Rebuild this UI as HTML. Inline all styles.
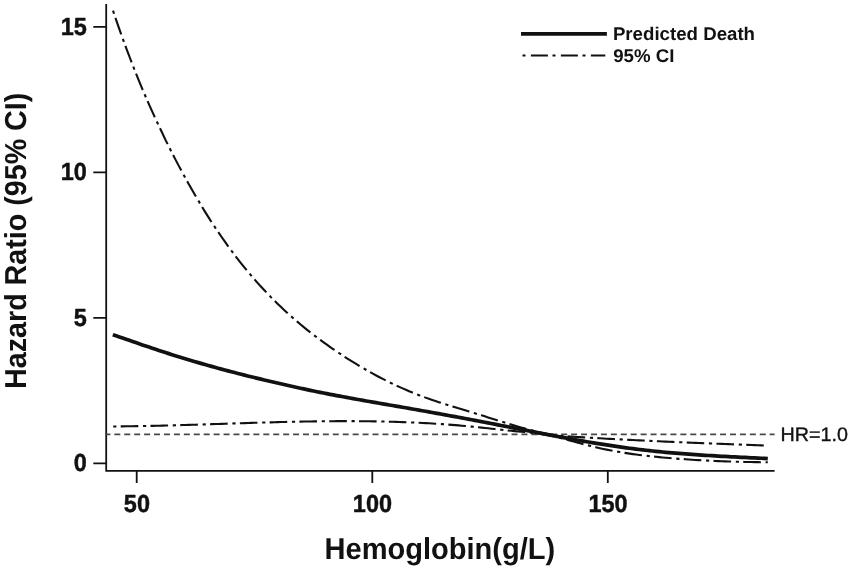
<!DOCTYPE html>
<html><head><meta charset="utf-8">
<title>Hazard Ratio vs Hemoglobin</title>
<style>
html,body{margin:0;padding:0;background:#fff;}
body{width:851px;height:569px;overflow:hidden;position:relative;font-family:"Liberation Sans",sans-serif;}
svg{position:absolute;left:0;top:0;will-change:transform;}
text{font-family:"Liberation Sans",sans-serif;fill:#111;text-rendering:geometricPrecision;}
.b{font-weight:bold;}
</style></head><body>
<svg width="851" height="569" viewBox="0 0 851 569">
<rect width="851" height="569" fill="#fff"/>
<!-- axes -->
<g stroke="#111" stroke-width="1.8" fill="none">
<path d="M106.2,4 V470.8 H774.6"/>
<path d="M93.3,26.8 H106.2 M93.3,172.3 H106.2 M93.3,317.9 H106.2 M93.3,463.3 H106.2"/>
<path d="M136.7,470.8 V483 M372.3,470.8 V483 M607.8,470.8 V483"/>
</g>
<!-- HR = 1.0 reference line -->
<path d="M106.2,434.4 H774.6" stroke="#484848" stroke-width="1.7" stroke-dasharray="6 3.93" stroke-dashoffset="1.8" fill="none"/>
<!-- 95% CI curves -->
<path d="M113.0,10.69 L116.3,20.40 L119.6,29.85 L122.9,39.05 L126.2,48.02 L129.5,56.75 L132.7,65.27 L136.0,73.57 L139.3,81.67 L142.6,89.57 L145.9,97.28 L149.2,104.81 L152.5,112.17 L155.8,119.37 L159.1,126.42 L162.4,133.32 L165.6,140.08 L168.9,146.71 L172.2,153.22 L175.5,159.61 L178.8,165.88 L182.1,172.04 L185.4,178.08 L188.7,184.00 L192.0,189.81 L195.3,195.51 L198.6,201.09 L201.8,206.55 L205.1,211.91 L208.4,217.15 L211.7,222.28 L215.0,227.29 L218.3,232.20 L221.6,237.00 L224.9,241.69 L228.2,246.27 L231.5,250.75 L234.7,255.13 L238.0,259.40 L241.3,263.58 L244.6,267.67 L247.9,271.66 L251.2,275.56 L254.5,279.36 L257.8,283.08 L261.1,286.72 L264.4,290.27 L267.7,293.74 L270.9,297.14 L274.2,300.45 L277.5,303.69 L280.8,306.86 L284.1,309.95 L287.4,312.98 L290.7,315.94 L294.0,318.84 L297.3,321.67 L300.6,324.44 L303.8,327.16 L307.1,329.82 L310.4,332.42 L313.7,334.97 L317.0,337.47 L320.3,339.92 L323.6,342.33 L326.9,344.69 L330.2,347.02 L333.5,349.30 L336.8,351.54 L340.0,353.75 L343.3,355.91 L346.6,358.04 L349.9,360.13 L353.2,362.18 L356.5,364.20 L359.8,366.18 L363.1,368.11 L366.4,370.01 L369.7,371.88 L372.9,373.70 L376.2,375.48 L379.5,377.23 L382.8,378.94 L386.1,380.61 L389.4,382.24 L392.7,383.83 L396.0,385.38 L399.3,386.90 L402.6,388.38 L405.9,389.81 L409.1,391.21 L412.4,392.57 L415.7,393.90 L419.0,395.18 L422.3,396.42 L425.6,397.63 L428.9,398.81 L432.2,399.96 L435.5,401.08 L438.8,402.17 L442.0,403.25 L445.3,404.30 L448.6,405.34 L451.9,406.36 L455.2,407.37 L458.5,408.37 L461.8,409.37 L465.1,410.36 L468.4,411.35 L471.7,412.34 L474.9,413.33 L478.2,414.33 L481.5,415.34 L484.8,416.36 L488.1,417.38 L491.4,418.41 L494.7,419.45 L498.0,420.48 L501.3,421.51 L504.6,422.53 L507.9,423.54 L511.1,424.54 L514.4,425.53 L517.7,426.50 L521.0,427.44 L524.3,428.37 L527.6,429.27 L530.9,430.14 L534.2,430.97 L537.5,431.77 L540.8,432.52 L544.0,433.23 L547.3,433.87 L550.6,434.46 L553.9,434.98 L557.2,435.43 L560.5,435.81 L563.8,436.11 L567.1,436.35 L570.4,436.57 L573.7,436.77 L577.0,436.97 L580.2,437.17 L583.5,437.36 L586.8,437.56 L590.1,437.75 L593.4,437.94 L596.7,438.13 L600.0,438.31 L603.3,438.50 L606.6,438.68 L609.9,438.86 L613.1,439.04 L616.4,439.21 L619.7,439.38 L623.0,439.56 L626.3,439.72 L629.6,439.89 L632.9,440.06 L636.2,440.22 L639.5,440.38 L642.8,440.54 L646.1,440.69 L649.3,440.85 L652.6,441.00 L655.9,441.15 L659.2,441.30 L662.5,441.45 L665.8,441.60 L669.1,441.74 L672.4,441.89 L675.7,442.03 L679.0,442.17 L682.2,442.31 L685.5,442.44 L688.8,442.58 L692.1,442.72 L695.4,442.85 L698.7,442.98 L702.0,443.12 L705.3,443.25 L708.6,443.38 L711.9,443.51 L715.2,443.64 L718.4,443.76 L721.7,443.89 L725.0,444.02 L728.3,444.14 L731.6,444.27 L734.9,444.39 L738.2,444.51 L741.5,444.64 L744.8,444.76 L748.1,444.88 L751.3,445.01 L754.6,445.13 L757.9,445.25 L761.2,445.37 L764.5,445.49 L767.8,445.61" stroke="#111" stroke-width="2.1" fill="none" stroke-dasharray="3.2 4.3 17.6 4.7"/>
<path d="M113.2,426.45 L116.5,426.43 L119.8,426.39 L123.1,426.36 L126.4,426.32 L129.6,426.27 L132.9,426.22 L136.2,426.17 L139.5,426.11 L142.8,426.05 L146.1,425.98 L149.4,425.91 L152.7,425.84 L156.0,425.77 L159.3,425.69 L162.5,425.61 L165.8,425.52 L169.1,425.44 L172.4,425.35 L175.7,425.26 L179.0,425.17 L182.3,425.07 L185.6,424.97 L188.9,424.88 L192.1,424.78 L195.4,424.68 L198.7,424.57 L202.0,424.47 L205.3,424.37 L208.6,424.26 L211.9,424.16 L215.2,424.05 L218.5,423.94 L221.8,423.84 L225.0,423.73 L228.3,423.63 L231.6,423.52 L234.9,423.41 L238.2,423.31 L241.5,423.21 L244.8,423.10 L248.1,423.00 L251.4,422.90 L254.6,422.80 L257.9,422.70 L261.2,422.60 L264.5,422.51 L267.8,422.42 L271.1,422.33 L274.4,422.24 L277.7,422.15 L281.0,422.07 L284.3,421.99 L287.5,421.91 L290.8,421.83 L294.1,421.76 L297.4,421.69 L300.7,421.63 L304.0,421.56 L307.3,421.51 L310.6,421.45 L313.9,421.40 L317.1,421.36 L320.4,421.31 L323.7,421.28 L327.0,421.24 L330.3,421.22 L333.6,421.19 L336.9,421.17 L340.2,421.16 L343.5,421.15 L346.8,421.15 L350.0,421.15 L353.3,421.16 L356.6,421.18 L359.9,421.20 L363.2,421.23 L366.5,421.26 L369.8,421.30 L373.1,421.35 L376.4,421.40 L379.6,421.46 L382.9,421.53 L386.2,421.61 L389.5,421.69 L392.8,421.78 L396.1,421.88 L399.4,421.98 L402.7,422.10 L406.0,422.22 L409.3,422.35 L412.5,422.49 L415.8,422.64 L419.1,422.79 L422.4,422.96 L425.7,423.13 L429.0,423.31 L432.3,423.51 L435.6,423.71 L438.9,423.92 L442.1,424.14 L445.4,424.37 L448.7,424.62 L452.0,424.87 L455.3,425.13 L458.6,425.40 L461.9,425.69 L465.2,425.98 L468.5,426.28 L471.7,426.60 L475.0,426.93 L478.3,427.27 L481.6,427.61 L484.9,427.96 L488.2,428.32 L491.5,428.68 L494.8,429.04 L498.1,429.40 L501.4,429.76 L504.6,430.11 L507.9,430.46 L511.2,430.79 L514.5,431.12 L517.8,431.44 L521.1,431.75 L524.4,432.07 L527.7,432.40 L531.0,432.76 L534.2,433.14 L537.5,433.57 L540.8,434.03 L544.1,434.56 L547.4,435.14 L550.7,435.79 L554.0,436.50 L557.3,437.25 L560.6,438.05 L563.9,438.88 L567.1,439.74 L570.4,440.62 L573.7,441.51 L577.0,442.41 L580.3,443.30 L583.6,444.18 L586.9,445.05 L590.2,445.88 L593.5,446.69 L596.7,447.47 L600.0,448.22 L603.3,448.94 L606.6,449.63 L609.9,450.29 L613.2,450.92 L616.5,451.52 L619.8,452.09 L623.1,452.64 L626.4,453.16 L629.6,453.65 L632.9,454.12 L636.2,454.56 L639.5,454.99 L642.8,455.39 L646.1,455.77 L649.4,456.14 L652.7,456.49 L656.0,456.82 L659.2,457.14 L662.5,457.45 L665.8,457.75 L669.1,458.03 L672.4,458.31 L675.7,458.57 L679.0,458.83 L682.3,459.07 L685.6,459.30 L688.9,459.53 L692.1,459.74 L695.4,459.94 L698.7,460.14 L702.0,460.32 L705.3,460.49 L708.6,460.66 L711.9,460.82 L715.2,460.96 L718.5,461.10 L721.7,461.24 L725.0,461.36 L728.3,461.47 L731.6,461.58 L734.9,461.68 L738.2,461.77 L741.5,461.85 L744.8,461.93 L748.1,462.00 L751.4,462.07 L754.6,462.12 L757.9,462.17 L761.2,462.22 L764.5,462.25 L767.8,462.29" stroke="#111" stroke-width="2.1" fill="none" stroke-dasharray="3.2 4.3 17.6 4.7"/>
<!-- predicted curve -->
<path d="M112.8,334.73 L116.1,335.84 L119.4,336.97 L122.7,338.09 L126.0,339.22 L129.3,340.36 L132.5,341.49 L135.8,342.62 L139.1,343.75 L142.4,344.88 L145.7,346.00 L149.0,347.11 L152.3,348.22 L155.6,349.32 L158.9,350.41 L162.2,351.49 L165.5,352.56 L168.8,353.62 L172.0,354.67 L175.3,355.70 L178.6,356.72 L181.9,357.74 L185.2,358.74 L188.5,359.73 L191.8,360.72 L195.1,361.69 L198.4,362.65 L201.7,363.60 L205.0,364.54 L208.3,365.47 L211.5,366.39 L214.8,367.30 L218.1,368.20 L221.4,369.09 L224.7,369.97 L228.0,370.85 L231.3,371.71 L234.6,372.57 L237.9,373.42 L241.2,374.26 L244.5,375.09 L247.7,375.92 L251.0,376.74 L254.3,377.55 L257.6,378.35 L260.9,379.15 L264.2,379.94 L267.5,380.73 L270.8,381.50 L274.1,382.28 L277.4,383.04 L280.7,383.80 L284.0,384.56 L287.2,385.30 L290.5,386.04 L293.8,386.78 L297.1,387.50 L300.4,388.22 L303.7,388.93 L307.0,389.63 L310.3,390.33 L313.6,391.01 L316.9,391.69 L320.2,392.36 L323.5,393.02 L326.7,393.67 L330.0,394.31 L333.3,394.94 L336.6,395.57 L339.9,396.19 L343.2,396.80 L346.5,397.41 L349.8,398.01 L353.1,398.61 L356.4,399.20 L359.7,399.79 L363.0,400.37 L366.2,400.95 L369.5,401.52 L372.8,402.10 L376.1,402.67 L379.4,403.24 L382.7,403.81 L386.0,404.38 L389.3,404.95 L392.6,405.52 L395.9,406.09 L399.2,406.66 L402.4,407.23 L405.7,407.80 L409.0,408.38 L412.3,408.96 L415.6,409.54 L418.9,410.12 L422.2,410.71 L425.5,411.30 L428.8,411.89 L432.1,412.48 L435.4,413.07 L438.7,413.67 L441.9,414.27 L445.2,414.87 L448.5,415.47 L451.8,416.08 L455.1,416.69 L458.4,417.30 L461.7,417.92 L465.0,418.53 L468.3,419.15 L471.6,419.77 L474.9,420.40 L478.2,421.02 L481.4,421.65 L484.7,422.28 L488.0,422.92 L491.3,423.55 L494.6,424.19 L497.9,424.83 L501.2,425.48 L504.5,426.12 L507.8,426.77 L511.1,427.42 L514.4,428.06 L517.6,428.71 L520.9,429.36 L524.2,430.00 L527.5,430.65 L530.8,431.29 L534.1,431.94 L537.4,432.58 L540.7,433.22 L544.0,433.85 L547.3,434.48 L550.6,435.11 L553.9,435.74 L557.1,436.36 L560.4,436.98 L563.7,437.59 L567.0,438.19 L570.3,438.80 L573.6,439.39 L576.9,439.98 L580.2,440.56 L583.5,441.14 L586.8,441.71 L590.1,442.27 L593.4,442.82 L596.6,443.36 L599.9,443.90 L603.2,444.43 L606.5,444.94 L609.8,445.45 L613.1,445.95 L616.4,446.43 L619.7,446.91 L623.0,447.37 L626.3,447.83 L629.6,448.27 L632.9,448.70 L636.1,449.11 L639.4,449.52 L642.7,449.91 L646.0,450.28 L649.3,450.65 L652.6,451.00 L655.9,451.34 L659.2,451.68 L662.5,451.99 L665.8,452.30 L669.1,452.60 L672.3,452.89 L675.6,453.17 L678.9,453.44 L682.2,453.70 L685.5,453.95 L688.8,454.20 L692.1,454.44 L695.4,454.67 L698.7,454.89 L702.0,455.10 L705.3,455.31 L708.6,455.52 L711.8,455.72 L715.1,455.91 L718.4,456.10 L721.7,456.28 L725.0,456.46 L728.3,456.63 L731.6,456.80 L734.9,456.97 L738.2,457.14 L741.5,457.30 L744.8,457.46 L748.1,457.62 L751.3,457.78 L754.6,457.94 L757.9,458.09 L761.2,458.25 L764.5,458.40 L767.8,458.56" stroke="#111" stroke-width="3.7" fill="none"/>
<!-- legend lines -->
<path d="M521,33.8 H606.9" stroke="#111" stroke-width="3.8" fill="none"/>
<path d="M522.5,55.5 H605.3" stroke="#111" stroke-width="2" fill="none" stroke-dasharray="3 5.4 17 4.6"/>
<!-- text -->
<text class="b" font-size="24.7" text-anchor="end" transform="translate(86.8,34.7) scale(0.95,1)" stroke="#111" stroke-width="0.45" stroke-linejoin="round">15</text>
<text class="b" font-size="24.7" text-anchor="end" transform="translate(86.8,180.2) scale(0.95,1)" stroke="#111" stroke-width="0.45" stroke-linejoin="round">10</text>
<text class="b" font-size="24.7" text-anchor="end" transform="translate(86.8,325.7) scale(0.95,1)" stroke="#111" stroke-width="0.45" stroke-linejoin="round">5</text>
<text class="b" font-size="24.7" text-anchor="end" transform="translate(86.8,471.3) scale(0.95,1)" stroke="#111" stroke-width="0.45" stroke-linejoin="round">0</text>
<text class="b" font-size="24.7" text-anchor="middle" transform="translate(136.9,512.2) scale(0.95,1)" stroke="#111" stroke-width="0.45" stroke-linejoin="round">50</text>
<text class="b" font-size="24.7" text-anchor="middle" transform="translate(372.4,512.2) scale(0.95,1)" stroke="#111" stroke-width="0.45" stroke-linejoin="round">100</text>
<text class="b" font-size="24.7" text-anchor="middle" transform="translate(608.0,512.2) scale(0.95,1)" stroke="#111" stroke-width="0.45" stroke-linejoin="round">150</text>
<text class="b" font-size="30.3" text-anchor="middle" transform="translate(439.9,558.9) scale(0.959,1)">Hemoglobin(g/L)</text>
<text class="b" font-size="30.3" text-anchor="middle" transform="translate(25.6,240.8) rotate(-90) scale(0.946,1)">Hazard Ratio (95% CI)</text>
<text class="b" font-size="18.4" text-anchor="start" transform="translate(612.9,40.25) scale(1.015,1)">Predicted Death</text>
<text class="b" font-size="18.4" text-anchor="start" transform="translate(613.2,62.0) scale(1.015,1)">95% CI</text>
<text font-size="19.5" text-anchor="start" transform="translate(780.5,440.6) scale(1.012,1)" stroke="#111" stroke-width="0.35">HR=1.0</text>
</svg>
</body></html>
